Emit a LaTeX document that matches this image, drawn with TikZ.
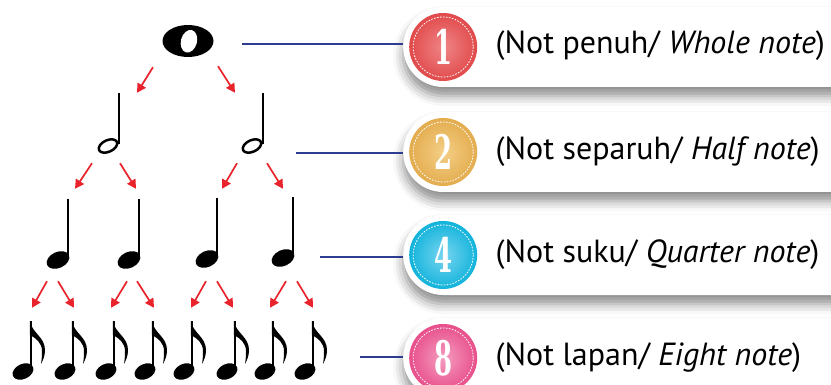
\documentclass[tikz,border=0pt]{standalone}
\usepackage{fontspec}
\usepackage{xcolor}
\usepackage{tikz}
\usetikzlibrary{arrows.meta,calc,positioning,shadows.blur}
\newfontfamily\paneltextfont{PT Sans}
\newfontfamily\badgefont{DejaVu Serif}

\definecolor{arrowred}{HTML}{E8232B}
\definecolor{lineblue}{HTML}{2C3D8F}
\definecolor{redlight}{HTML}{EF8587}
\definecolor{reddark}{HTML}{E14A4B}
\definecolor{yellowlight}{HTML}{F4CF86}
\definecolor{yellowdark}{HTML}{E3AC4E}
\definecolor{bluelight}{HTML}{78D5F0}
\definecolor{bluedark}{HTML}{12B3DB}
\definecolor{pinklight}{HTML}{F49DC0}
\definecolor{pinkdark}{HTML}{E84F8B}

% notes: #1 name, #2 stem x (or centre x), #3 stem top y (or centre y)
\newcommand{\wholenote}[3]{
  \fill (#2,#3) ellipse [x radius=25.5, y radius=16];
  \fill[white, rotate around={-15:(#2,#3)}] (#2+1,#3) ellipse [x radius=8, y radius=11.5];
  \node[notebox={52}{32}] (#1) at (#2,#3) {};
}
\newcommand{\halfnote}[3]{
  \draw[line width=2.5pt, rotate around={25:(#2-11,#3+53)}] (#2-11,#3+53) ellipse [x radius=9.8, y radius=5.8];
  \draw[notestem, line width=2.2pt] (#2,#3) -- (#2,#3+51);
  \node[notebox={23}{60}] (#1) at (#2-10.5,#3+30) {};
}
\newcommand{\quarternote}[3]{
  \fill[rotate around={25:(#2-10,#3+61)}] (#2-10,#3+61) ellipse [x radius=12, y radius=8];
  \draw[notestem] (#2,#3) -- (#2,#3+59);
  \node[notebox={23}{70}] (#1) at (#2-9.5,#3+35) {};
}
\newcommand{\eighthnote}[3]{
  \fill[rotate around={25:(#2-8,#3+50.5)}] (#2-8,#3+50.5) ellipse [x radius=11, y radius=7.5];
  \draw[notestem] (#2,#3) -- (#2,#3+48);
  \fill (#2-1.2,#3) .. controls (#2+1,#3+12) and (#2+14,#3+16) .. (#2+14,#3+29)
        .. controls (#2+14,#3+35) and (#2+12,#3+39) .. (#2+10,#3+43)
        .. controls (#2+11,#3+37) and (#2+11,#3+33) .. (#2+11,#3+30)
        .. controls (#2+11,#3+22) and (#2+5,#3+17) .. (#2-1.2,#3+14) -- cycle;
  \node[notebox={32}{59}] (#1) at (#2-2,#3+29.5) {};
}

\begin{document}
\begin{tikzpicture}[
    x=1pt, y=-1pt,
    notebox/.style 2 args={rectangle, inner sep=0, minimum width=#1, minimum height=#2},
    notestem/.style={line width=2.4pt, line cap=butt},
    redarrow/.style={draw=arrowred, line width=1.7pt, -{Triangle[length=9pt, width=9.5pt]}},
    blueline/.style={draw=lineblue, line width=1.4pt},
    panel/.style={rectangle, fill=white, rounded corners=40pt, minimum width=500pt,
        minimum height=80pt, inner sep=0, anchor=west,
        blur shadow={shadow xshift=0pt, shadow yshift=-9pt, shadow blur radius=10pt, shadow opacity=45}},
    badge/.style={circle, minimum size=68pt, inner sep=0, shade},
    badgering/.style={draw=white, line width=0.8pt, dash pattern=on 1.6pt off 1.4pt},
    badgenum/.style={text=white, inner sep=0, font=\badgefont\bfseries\fontsize{36}{36}\selectfont},
    paneltext/.style={anchor=west, inner sep=0, font=\paneltextfont\fontsize{32}{34}\selectfont}]

\useasboundingbox (0,0) rectangle (831,385);

% panels
\node[panel] (p1) at (403,47) {};
\node[panel] (p2) at (403,152) {};
\node[panel] (p3) at (403,255) {};
\node[panel] (p4) at (403,358) {};

\node[badge, inner color=redlight, outer color=reddark, right=6pt of p1.west] (b1) {};
\node[badge, inner color=yellowlight, outer color=yellowdark, right=6pt of p2.west] (b2) {};
\node[badge, inner color=bluelight, outer color=bluedark, right=6pt of p3.west] (b3) {};
\node[badge, inner color=pinklight, outer color=pinkdark, right=6pt of p4.west] (b4) {};

\foreach \b in {b1,b2,b3,b4}
  \draw[badgering] (\b) circle [radius=30];

\node[badgenum] (n1) at (b1) {\scalebox{0.72}[1.32]{1}};
\node[badgenum] (n2) at (b2) {\scalebox{0.72}[1.32]{2}};
\node[badgenum] (n3) at (b3) {\scalebox{0.72}[1.32]{4}};
\node[badgenum] (n4) at (b4) {\scalebox{0.72}[1.32]{8}};

\node[paneltext, right=18pt of b1.east, yshift=1.5pt] (t1) {(Not penuh/ \textit{Whole note})};
\node[paneltext, right=18pt of b2.east] (t2) {(Not separuh/ \textit{Half note})};
\node[paneltext, right=18pt of b3.east] (t3) {(Not suku/ \textit{Quarter note})};
\node[paneltext, right=18pt of b4.east] (t4) {(Not lapan/ \textit{Eight note})};

% notes
\wholenote{w}{188}{41}
\halfnote{h1}{119}{93}
\halfnote{h2}{263}{93}
\quarternote{q1}{68}{199}
\quarternote{q2}{139}{199}
\quarternote{q3}{217}{198}
\quarternote{q4}{293}{197}
\foreach \s [count=\k] in {31,73,114,153,192,235,273,313}
  {\eighthnote{e\k}{\s}{321}}

% arrows
\foreach \p/\c/\sx/\sy/\tx/\ty in {w/h1/-35/10/28.5/0, w/h2/30/9/-17.5/0,
    h1/q1/-16.5/10/16.5/-10, h1/q2/11.5/10/6.5/-10, h2/q3/-15.5/10/14.5/-9, h2/q4/14.5/10/-0.5/-8,
    q1/e1/-11.5/12/3/-13, q1/e2/-0.5/12/3/-13, q2/e3/-2.5/12/-1/-13, q2/e4/7.5/12/3/-13,
    q3/e5/-1.5/13/1/-13, q3/e6/9.5/13/0/-13, q4/e7/2.5/14/-1/-13, q4/e8/13.5/14/2/-13}
  \draw[redarrow] ($(\p.south)+(\sx,\sy)$) -- ($(\c.north)+(\tx,\ty)$);

% connectors to the panels
\coordinate (s1) at (242,44);
\coordinate (s2) at (296,153);
\coordinate (s3) at (320,257);
\coordinate (s4) at (360,357);
\draw[blueline] (s1) -- (s1 -| p1.west);
\draw[blueline] (s2) -- (s2 -| p2.west);
\draw[blueline] (s3) -- (s3 -| p3.west);
\draw[blueline] (s4) -- (s4 -| p4.west);

\end{tikzpicture}
\end{document}
